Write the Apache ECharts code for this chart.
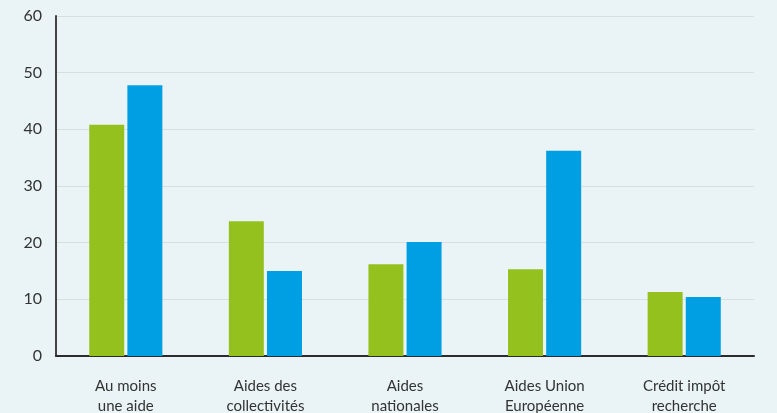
<!DOCTYPE html>
<html><head><meta charset="utf-8">
<script src="https://cdn.jsdelivr.net/npm/echarts@6/dist/echarts.min.js"></script>
<style>html,body{margin:0;padding:0;background:#EAF4F6;}#c{width:777px;height:413px;}</style>
</head><body><div id="c"></div>
<script>
const categories = ["Au moins\nune aide", "Aides des\ncollectivités", "Aides\nnationales", "Aides Union\nEuropéenne", "Crédit impôt\nrecherche"];
const seriesA = [40.8, 23.8, 16.2, 15.3, 11.3];
const seriesB = [47.8, 15.0, 20.1, 36.2, 10.4];
const yTicks = [0, 10, 20, 30, 40, 50, 60];

const chart = echarts.init(document.getElementById('c'), null, {renderer: 'canvas'});
chart.setOption({
  backgroundColor: '#EAF4F6',
  animation: false,
  textStyle: {fontFamily: 'Lato'},
  grid: {left: 56, right: 23, top: 16, bottom: 57, containLabel: false, outerBoundsMode: 'none'},
  xAxis: {
    type: 'category',
    data: categories,
    axisLine: {lineStyle: {color: '#2b2b2b', width: 2}},
    axisTick: {show: false},
    axisLabel: {color: '#333', fontSize: 15, lineHeight: 20, margin: 20, fontFamily: 'Lato'}
  },
  yAxis: {
    type: 'value',
    min: yTicks[0], max: yTicks[yTicks.length - 1], interval: 10,
    axisLine: {show: true, lineStyle: {color: '#444', width: 2}},
    axisTick: {show: false},
    splitLine: {lineStyle: {color: '#d8dfe1', width: 1}},
    axisLabel: {color: '#333', fontSize: 16, margin: 14, fontFamily: 'Lato'}
  },
  series: [
    {type: 'bar', data: seriesA, barWidth: 35, barGap: '9%', itemStyle: {color: '#95C11F'}},
    {type: 'bar', data: seriesB, barWidth: 35, itemStyle: {color: '#009FE3'}}
  ]
});
</script></body></html>
